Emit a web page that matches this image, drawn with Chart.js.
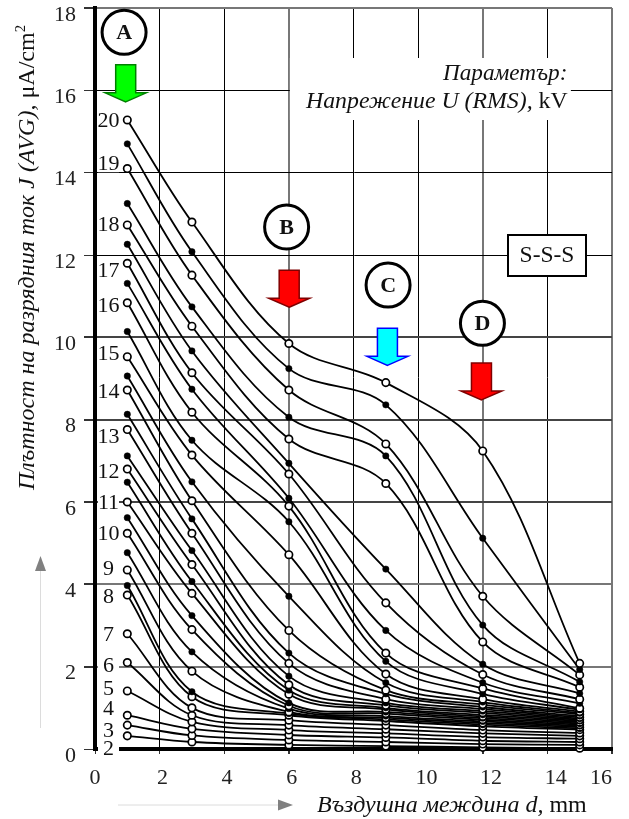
<!DOCTYPE html>
<html>
<head>
<meta charset="utf-8">
<style>html,body{margin:0;padding:0;background:#fff}canvas{display:block}</style>
<script src="https://cdn.jsdelivr.net/npm/chart.js@4"></script>
</head>
<body>
<canvas id="chart" width="629" height="819"></canvas>
<script>
const gapMm = [1, 3, 6, 9, 12, 15];
const xTickLabels = ['0', ' 2', ' 4', ' 6', ' 8', '   10', '   12', '   14', '16    '];
const yTickLabels = ['0', '2', '4', '6', '8', '10', '12', '14', '16', '18'];

const u20 = [15.28, 12.80, 9.85, 8.90, 7.24, 2.08];
const u19_5 = [14.70, 12.08, 9.24, 8.36, 5.12, 1.93];
const u19 = [14.10, 11.51, 8.72, 7.41, 3.71, 1.80];
const u18_5 = [13.25, 10.74, 8.06, 7.12, 3.01, 1.63];
const u18 = [12.73, 10.27, 7.53, 6.45, 2.60, 1.50];
const u17_5 = [12.26, 9.67, 6.94, 4.37, 2.06, 1.35];
const u17 = [11.80, 9.14, 6.68, 3.55, 1.81, 1.21];
const u16_5 = [11.31, 8.74, 6.09, 2.88, 1.61, 1.11];
const u16 = [10.84, 8.18, 5.90, 2.33, 1.47, 0.99];
const u15_5 = [10.14, 7.50, 5.52, 2.13, 1.34, 0.95];
const u15 = [9.53, 7.14, 4.72, 1.82, 1.21, 0.91];
const u14_5 = [9.06, 6.49, 3.71, 1.61, 1.14, 0.87];
const u14 = [8.72, 6.03, 2.88, 1.43, 1.08, 0.84];
const u13_5 = [8.13, 5.59, 2.33, 1.34, 1.02, 0.80];
const u13 = [7.76, 5.24, 2.08, 1.21, 0.97, 0.77];
const u12_5 = [7.12, 4.82, 1.77, 1.12, 0.92, 0.74];
const u12 = [6.80, 4.48, 1.56, 1.06, 0.88, 0.71];
const u11_5 = [6.48, 4.07, 1.43, 1.00, 0.83, 0.68];
const u11 = [6.00, 3.78, 1.33, 0.96, 0.79, 0.65];
const u10_5 = [5.62, 3.24, 1.12, 0.90, 0.75, 0.62];
const u10 = [5.24, 2.90, 1.05, 0.86, 0.71, 0.59];
const u9_5 = [4.77, 2.36, 0.98, 0.80, 0.67, 0.56];
const u9 = [4.35, 1.89, 0.90, 0.76, 0.63, 0.53];
const u8_5 = [3.97, 1.39, 0.86, 0.72, 0.59, 0.50];
const u8 = [3.74, 1.27, 0.82, 0.68, 0.55, 0.47];
const u7 = [2.80, 1.00, 0.70, 0.58, 0.46, 0.39];
const u6 = [2.10, 0.82, 0.58, 0.48, 0.38, 0.32];
const u5 = [1.41, 0.66, 0.46, 0.38, 0.29, 0.25];
const u4 = [0.82, 0.49, 0.34, 0.28, 0.20, 0.17];
const u3 = [0.58, 0.33, 0.22, 0.17, 0.12, 0.10];
const u2 = [0.32, 0.17, 0.10, 0.07, 0.04, 0.02];

const voltages = [20, 19.5, 19, 18.5, 18, 17.5, 17, 16.5, 16, 15.5, 15, 14.5, 14, 13.5, 13, 12.5, 12, 11.5, 11, 10.5, 10, 9.5, 9, 8.5, 8, 7, 6, 5, 4, 3, 2];
const currents = [u20, u19_5, u19, u18_5, u18, u17_5, u17, u16_5, u16, u15_5, u15, u14_5, u14, u13_5, u13, u12_5, u12, u11_5, u11, u10_5, u10, u9_5, u9, u8_5, u8, u7, u6, u5, u4, u3, u2];

// the number written left of a curve and the height it sits at
const curveNames = ['20', '19', '18', '17', '16', '15', '14', '13', '12', '11', '10', '9', '8', '7', '6', '5', '4', '3', '2'];
const curveNameY = [15.28, 14.23, 12.75, 11.63, 10.78, 9.62, 8.70, 7.60, 6.75, 6.00, 5.25, 4.40, 3.72, 2.79, 2.04, 1.48, 1.00, 0.46, 0.02];

// circled letters and the arrows under them, in axis units
const markerNames = ['A', 'B', 'C', 'D'];
const circleX = [0.90, 5.93, 9.07, 11.99];
const circleY = [17.41, 12.68, 11.27, 10.34];
const arrowX = [0.95, 6.01, 9.05, 11.96];
const arrowTipY = [15.72, 10.73, 9.32, 8.48];
const arrowFill = ['#00ff00', '#ff0000', '#00ffff', '#ff0000'];
const arrowEdge = ['#008000', '#800000', '#0000ff', '#800000'];

const SERIF = '"Liberation Serif", "Times New Roman", serif';

function mixedText(ctx, parts, x, y, size) {
  // parts: [text, italic?, shiftUp?]
  parts.forEach(p => {
    const s = p[2] ? size * 0.62 : size;
    ctx.font = (p[1] ? 'italic ' : '') + s + 'px ' + SERIF;
    ctx.fillText(p[0], x, y - (p[2] || 0));
    x += ctx.measureText(p[0]).width;
  });
  return x;
}

function greyArrow(ctx, x0, y0, x1, y1) {
  const a = Math.atan2(y1 - y0, x1 - x0), len = 15, half = 5.5;
  const bx = x1 - Math.cos(a) * len, by = y1 - Math.sin(a) * len;
  ctx.strokeStyle = '#dcdcdc'; ctx.lineWidth = 1;
  ctx.beginPath(); ctx.moveTo(x0, y0); ctx.lineTo(bx, by); ctx.stroke();
  ctx.fillStyle = '#808080';
  ctx.beginPath();
  ctx.moveTo(x1, y1);
  ctx.lineTo(bx - Math.sin(a) * half, by + Math.cos(a) * half);
  ctx.lineTo(bx + Math.sin(a) * half, by - Math.cos(a) * half);
  ctx.closePath(); ctx.fill();
}

const behindCurves = {
  id: 'behindCurves',
  beforeDatasetsDraw(chart) {
    const { ctx, scales: { x, y } } = chart;
    ctx.save();
    // parameter note sits on a white patch that hides the grid
    ctx.fillStyle = '#fff';
    ctx.fillRect(x.getPixelForValue(6) + 1, 58, 281, 62);
    ctx.fillStyle = '#111';
    ctx.textAlign = 'left'; ctx.textBaseline = 'alphabetic';
    mixedText(ctx, [['Параметър:', true]], 443, 80, 23.2);
    mixedText(ctx, [['Напрежение U (RMS),', true], [' kV', false]], 306, 108, 23.8);
    // S-S-S box
    ctx.fillStyle = '#fff'; ctx.strokeStyle = '#000'; ctx.lineWidth = 2;
    ctx.fillRect(508, 235, 78, 41); ctx.strokeRect(508, 235, 78, 41);
    ctx.fillStyle = '#111'; ctx.textAlign = 'center'; ctx.textBaseline = 'middle';
    ctx.font = '23.5px ' + SERIF;
    ctx.fillText('S-S-S', 547, 256);
    // curve numbers
    ctx.font = '22px ' + SERIF;
    curveNames.forEach((name, i) => {
      const py = y.getPixelForValue(curveNameY[i]);
      ctx.fillStyle = '#fff';
      ctx.fillRect(98, py - 9, 21, 18);
      ctx.fillStyle = '#111';
      ctx.fillText(name, 108.5, py + 1);
    });
    ctx.restore();
  }
};

const overCurves = {
  id: 'overCurves',
  afterDatasetsDraw(chart) {
    const { ctx, scales: { x, y } } = chart;
    ctx.save();
    markerNames.forEach((name, i) => {
      const cx = x.getPixelForValue(circleX[i]), cy = y.getPixelForValue(circleY[i]);
      ctx.beginPath(); ctx.arc(cx, cy, 22, 0, Math.PI * 2);
      ctx.fillStyle = '#fff'; ctx.fill();
      ctx.lineWidth = 3; ctx.strokeStyle = '#000'; ctx.stroke();
      ctx.fillStyle = '#111'; ctx.font = 'bold 22px ' + SERIF;
      ctx.textAlign = 'center'; ctx.textBaseline = 'middle';
      ctx.fillText(name, cx, cy + 1);

      const ax = x.getPixelForValue(arrowX[i]), tip = y.getPixelForValue(arrowTipY[i]);
      ctx.beginPath();
      ctx.moveTo(ax, tip);
      ctx.lineTo(ax + 20.5, tip - 9);
      ctx.lineTo(ax + 10, tip - 9);
      ctx.lineTo(ax + 10, tip - 37);
      ctx.lineTo(ax - 10, tip - 37);
      ctx.lineTo(ax - 10, tip - 9);
      ctx.lineTo(ax - 20.5, tip - 9);
      ctx.closePath();
      ctx.fillStyle = arrowFill[i]; ctx.fill();
      ctx.lineWidth = 1.5; ctx.strokeStyle = arrowEdge[i]; ctx.stroke();
    });

    greyArrow(ctx, 40.5, 728, 40.5, 556);
    greyArrow(ctx, 118, 805, 293, 805);

    // axis titles, several styles in one line so not the scale titles
    ctx.fillStyle = '#111';
    ctx.textAlign = 'left'; ctx.textBaseline = 'alphabetic';
    mixedText(ctx, [['Въздушна междина d,', true], [' mm', false]], 317, 812, 24);
    ctx.translate(34, 490);
    ctx.rotate(-Math.PI / 2);
    mixedText(ctx, [['Плътност на разрядния ток J (AVG),', true], [' μA/cm', false], ['2', false, 9]], 0, 0, 24);
    ctx.restore();
  }
};

const greyX = [6, 12, 16];
const greyY = [2, 4, 18];
const midY = [6, 8, 10];

function gridColor(list, mid) {
  return c => list.includes(c.tick.value) ? '#777' : (mid.includes(c.tick.value) ? '#444' : '#000');
}
function gridWidth(list, mid) {
  return c => (list.includes(c.tick.value) || mid.includes(c.tick.value)) ? 2 : 1;
}

// chart area must not shrink to make room for the outer tick labels
function noLabelPadding(s) {
  s.paddingLeft = s.paddingRight = s.paddingTop = s.paddingBottom = 0;
}

new Chart(document.getElementById('chart').getContext('2d'), {
  type: 'line',
  data: {
    labels: gapMm,
    datasets: voltages.map((u, i) => {
      const hollow = Number.isInteger(u);
      return {
        label: u + ' kV',
        data: currents[i].map((v, k) => ({ x: gapMm[k], y: v })),
        borderColor: '#000',
        borderWidth: 1.8,
        tension: 0.35,
        clip: false,
        pointRadius: hollow ? 3.7 : 3.2,
        pointBackgroundColor: hollow ? '#fff' : '#000',
        pointBorderColor: '#000',
        pointBorderWidth: hollow ? 1.7 : 0.5
      };
    })
  },
  options: {
    responsive: false,
    animation: false,
    devicePixelRatio: 1,
    layout: { padding: { left: 0, top: 8, right: 17, bottom: 0 } },
    plugins: { legend: { display: false }, title: { display: false }, tooltip: { enabled: false } },
    scales: {
      x: {
        type: 'linear', min: 0, max: 16,
        afterFit: s => { s.height = 70; noLabelPadding(s); },
        afterBuildTicks: s => { s.ticks = xTickLabels.map((_, i) => ({ value: i * 2 })); },
        border: { color: '#000', width: 4 },
        grid: { color: gridColor(greyX, []), lineWidth: gridWidth(greyX, []), tickLength: 5, tickColor: '#333' },
        ticks: {
          autoSkip: false, maxRotation: 0, padding: 11, color: '#222',
          font: { family: SERIF, size: 22 },
          callback: (v, i) => xTickLabels[i]
        }
      },
      y: {
        type: 'linear', min: 0, max: 18,
        afterFit: s => { s.width = 95; noLabelPadding(s); },
        afterBuildTicks: s => { s.ticks = yTickLabels.map((_, i) => ({ value: i * 2 })); },
        border: { color: '#000', width: 4 },
        grid: { color: gridColor(greyY, midY), lineWidth: gridWidth(greyY, midY), tickLength: 11, tickColor: '#333' },
        ticks: {
          autoSkip: false, padding: 8, labelOffset: 7, color: '#222',
          font: { family: SERIF, size: 22 },
          callback: (v, i) => yTickLabels[i]
        }
      }
    }
  },
  plugins: [behindCurves, overCurves]
});
</script>
</body>
</html>
